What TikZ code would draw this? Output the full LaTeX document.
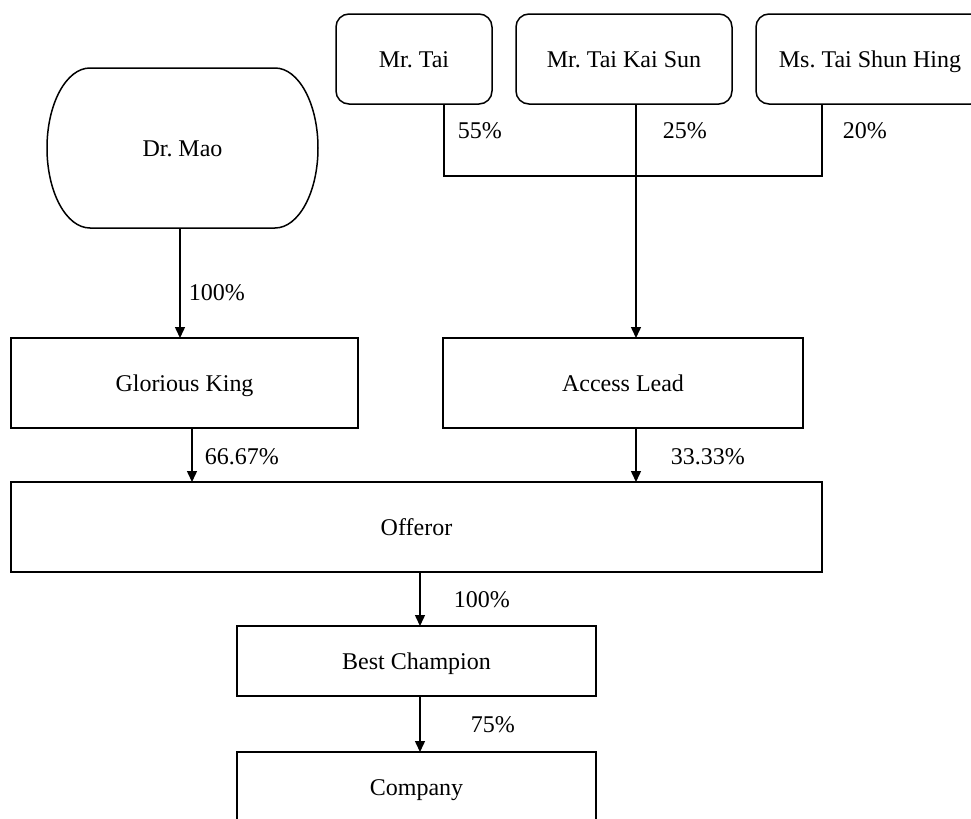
\documentclass[tikz,border=0pt]{standalone}
\usepackage{fontspec}
\setmainfont{Liberation Serif}
\frenchspacing
\usetikzlibrary{arrows.meta}
\begin{document}
\begin{tikzpicture}[x=0.5pt,y=-0.5pt,line width=0.75pt,font=\fontsize{12}{14}\selectfont,
    box/.style={draw,rectangle,outer sep=0pt,inner sep=0pt,text height=10.4pt,text depth=2pt},
    person/.style={box,rounded corners=6.5pt,minimum height=45pt},
    arr/.style={-{Triangle[length=5.5pt,width=5pt]}},
    pct/.style={anchor=west,inner sep=0pt}] %Estructura de accionistas
            \clip (0,0) rectangle (971,819);

            \node[person,minimum width=78pt] (tai) at (414,59) {Mr. Tai};
            \node[person,minimum width=108pt] (kaisun) at (624,59) {Mr. Tai Kai Sun};
            \node[person,minimum width=114pt] (shunhing) at (870,59) {Ms. Tai Shun Hing};

            \node[outer sep=0pt,minimum width=135.5pt,minimum height=80pt,text height=10.4pt,text depth=2pt] (mao) at (182.5,148) {Dr. Mao};
            \draw ([xshift=21.5pt]mao.north west) -- ([xshift=-21.5pt]mao.north east)
                arc[start angle=90,end angle=-90,x radius=21.5pt,y radius=40pt]
                -- ([xshift=21.5pt]mao.south west)
                arc[start angle=270,end angle=90,x radius=21.5pt,y radius=40pt] -- cycle;

            \node[box,minimum width=173.5pt,minimum height=45pt] (glorious) at (184.5,383) {Glorious King};
            \node[box,minimum width=180pt,minimum height=45pt] (access) at (623,383) {Access Lead};
            \node[box,minimum width=405.5pt,minimum height=45pt] (offeror) at (416.5,527) {Offeror};
            \node[box,minimum width=179.5pt,minimum height=35pt] (champion) at (416.5,661) {Best Champion};
            \node[box,minimum width=179.5pt,minimum height=35pt] (company) at (416.5,787) {Company};

            \coordinate (bar) at (636,176);
            \draw ([xshift=15pt]tai.south) |- (bar) -| ([xshift=-24pt]shunhing.south);
            \draw[arr] ([xshift=6pt]kaisun.south) -- ([xshift=6pt]kaisun.south |- access.north);

            \draw[arr] ([xshift=-1.25pt]mao.south) -- ([xshift=-1.25pt]mao.south |- glorious.north);
            \draw[arr] ([xshift=3.75pt]glorious.south) -- ([xshift=3.75pt]glorious.south |- offeror.north);
            \draw[arr] ([xshift=6.5pt]access.south) -- ([xshift=6.5pt]access.south |- offeror.north);
            \draw[arr] ([xshift=1.75pt]offeror.south) -- ([xshift=1.75pt]offeror.south |- champion.north);
            \draw[arr] ([xshift=1.75pt]champion.south) -- ([xshift=1.75pt]champion.south |- company.north);

            \node[pct] (p-tai) at (457,131) {55\%};
            \node[pct] (p-kaisun) at (662,131) {25\%};
            \node[pct] (p-shunhing) at (842,131) {20\%};
            \node[pct] (p-mao) at (188,293) {100\%};
            \node[pct] (p-glorious) at (204,457) {66.67\%};
            \node[pct] (p-access) at (670,457) {33.33\%};
            \node[pct] (p-offeror) at (453,600) {100\%};
            \node[pct] (p-champion) at (470,725) {75\%};
\end{tikzpicture}
\end{document}
